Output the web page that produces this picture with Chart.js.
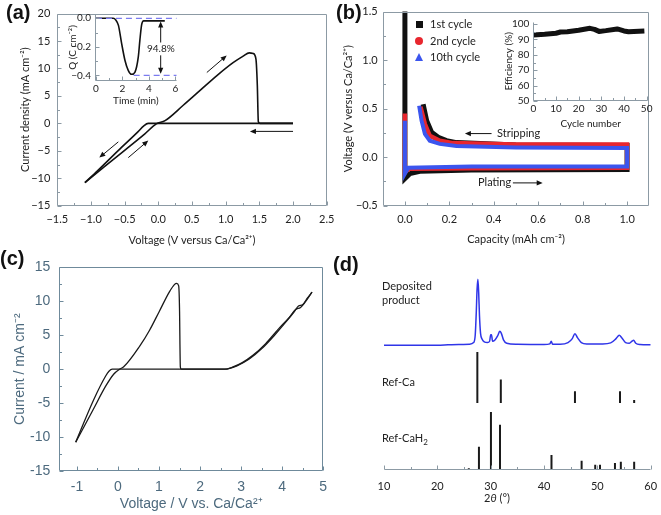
<!DOCTYPE html>
<html>
<head>
<meta charset="utf-8">
<script src="https://cdn.jsdelivr.net/npm/chart.js@4.4.1/dist/chart.umd.min.js"></script>
<style>
  body { margin: 0; width: 661px; height: 515px; overflow: hidden; background: #fff; position: relative; font-family: Lato, "Open Sans", sans-serif; color: #222; }
  canvas { position: absolute; }
  .pl { position: absolute; font: bold 20px/20px "Liberation Sans", Arial, sans-serif; color: #111; }
  .tx { position: absolute; font-size: 11px; line-height: 14px; white-space: nowrap; color: #222; }
  .mk { position: absolute; }
</style>
</head>
<body>
<canvas id="cA" width="345" height="250" style="left:0;top:0"></canvas>
<canvas id="cAin" width="135" height="108" style="left:50px;top:0"></canvas>
<canvas id="cB" width="331" height="250" style="left:330px;top:0"></canvas>
<canvas id="cBin" width="165" height="135" style="left:490px;top:0"></canvas>
<canvas id="cC" width="335" height="265" style="left:0;top:250px"></canvas>
<canvas id="cD" width="345" height="265" style="left:330px;top:250px"></canvas>

<div class="pl" style="left:6px;top:2px">(a)</div>
<div class="pl" style="left:336px;top:2px">(b)</div>
<div class="pl" style="left:0px;top:248px">(c)</div>
<div class="pl" style="left:333px;top:254px">(d)</div>

<div class="tx" style="left:147px;top:41px;font-size:10px">94.8%</div>

<div class="mk" style="left:416px;top:21px;width:7px;height:7px;background:#111"></div>
<div class="mk" style="left:415px;top:37px;width:8px;height:8px;border-radius:50%;background:#e8262e"></div>
<div class="mk" style="left:415px;top:53px;width:0;height:0;border-left:4.5px solid transparent;border-right:4.5px solid transparent;border-bottom:8px solid #3b55ee"></div>
<div class="tx" style="left:430px;top:17px">1st cycle</div>
<div class="tx" style="left:430px;top:34px">2nd cycle</div>
<div class="tx" style="left:430px;top:50px">10th cycle</div>
<div class="tx" style="left:497px;top:126px">Stripping</div>
<div class="tx" style="left:478px;top:175px">Plating</div>

<div class="tx" style="left:382px;top:279px">Deposited<br>product</div>
<div class="tx" style="left:382px;top:375px">Ref-Ca</div>
<div class="tx" style="left:382px;top:431px">Ref-CaH<sub style="font-size:8px">2</sub></div>
<div class="tx" style="left:467px;top:491px;width:60px;text-align:center">2<i>θ</i> (°)</div>

<script>
// (a) cyclic voltammogram, cathodic and anodic scans
const aCathV = [2.0, -0.15, -0.22, -0.3, -0.6, -0.9, -1.09];
const aCathI = [0, 0, -0.5, -1.5, -5.0, -8.6, -10.8];
const aAnoV = [-1.09, -0.8, -0.5, -0.2, -0.03, 0.1, 0.37, 0.62, 0.87, 1.11, 1.26, 1.35, 1.41, 1.45, 1.47, 1.485, 1.51, 2.0];
const aAnoI = [-10.8, -7.9, -4.9, -1.9, -0.1, 0.5, 3.3, 6.0, 8.7, 11.05, 12.25, 12.85, 12.72, 11.65, 6.9, 0.3, 0, 0];
// (a) inset: charge vs time
const insT = [0, 1.3, 1.5, 1.7, 1.94, 2.19, 2.44, 2.69, 2.95, 3.2, 3.32, 3.45, 3.6, 4.5, 5.2];
const insQ = [0, 0, -0.012, -0.05, -0.176, -0.294, -0.365, -0.393, -0.377, -0.271, -0.153, -0.047, -0.018, -0.018, -0.018];
const insRefT0 = [0, 6.1], insRefQ0 = [0, 0];
const insRefT1 = [2.85, 6.1], insRefQ1 = [-0.4, -0.4];

// (b) galvanostatic cycles: capacity vs voltage
const b1Cap = [0.0, 0.0, 0.022, 0.067, 0.3, 1.0, 1.0, 0.5, 0.232, 0.187, 0.15, 0.12, 0.098, 0.082];
const b1V = [1.7, -0.22, -0.17, -0.145, -0.132, -0.128, 0.12, 0.125, 0.15, 0.17, 0.205, 0.256, 0.376, 0.546];
const b2Cap = [0.0, 0.0, 0.02, 0.3, 1.0, 1.0, 0.5, 0.217, 0.157, 0.112, 0.09, 0.07];
const b2V = [0.45, -0.15, -0.12, -0.113, -0.11, 0.13, 0.13, 0.145, 0.17, 0.22, 0.34, 0.52];
const b10Cap = [0.0, 0.0, 0.015, 0.3, 1.0, 1.0, 0.5, 0.232, 0.157, 0.112, 0.09, 0.075, 0.064];
const b10V = [0.375, -0.17, -0.11, -0.097, -0.095, 0.095, 0.1, 0.115, 0.137, 0.17, 0.24, 0.376, 0.53];
// (b) inset: coulombic efficiency
const effCycle = [0, 5, 10, 12, 15, 20, 25, 27, 29, 32, 37, 40, 42, 49];
const effPct = [92.9, 93.3, 94, 94.8, 95, 95.9, 97.2, 96.5, 95.2, 95.7, 96.8, 95.5, 95, 95.5];

// (c) wide-window voltammogram
const cCathV = [4.73, 4.62, 4.5, 4.4, 4.3, 4.1, 3.8, 3.5, 3.2, 2.9, 2.6, 1.0, -0.14, -0.22, -0.3, -0.6, -1.03];
const cCathI = [11.36, 10.5, 9.5, 9.3, 8.5, 7.0, 4.9, 3.0, 1.5, 0.5, 0, 0, 0, -0.3, -1.0, -4.6, -10.75];
const cAnoV = [-1.03, -0.6, -0.3, -0.1, 0.04, 0.14, 0.53, 0.77, 1.01, 1.25, 1.38, 1.43, 1.48, 1.5, 1.52, 1.54, 2.6, 2.79, 3.03, 3.28, 3.6, 3.92, 4.17, 4.33, 4.45, 4.57, 4.73];
const cAnoI = [-10.75, -5.9, -2.5, -0.7, 0, 0.35, 3.4, 5.74, 8.55, 11.36, 12.5, 12.66, 12.28, 9, 0.35, 0, 0, 0.3, 0.97, 2.0, 3.77, 5.97, 7.6, 8.8, 9.1, 9.95, 11.36];

// (d) XRD
const depTheta = [10, 20, 22, 24, 26, 26.8, 27.1, 27.3, 27.45, 27.6, 27.75, 27.9, 28.1, 28.4, 28.8, 29.4, 29.8, 30.0, 30.15, 30.35, 30.8, 31.3, 31.7, 32.0, 32.4, 33, 35, 40, 41.1, 41.35, 41.6, 43, 44.5, 45.3, 45.8, 46.3, 47, 48, 51, 52.5, 53.5, 54.1, 54.6, 55.3, 56, 56.5, 56.8, 57.2, 58, 60];
const depInt = [0, 0, 0.5, 1, 1.5, 4, 15, 50, 85, 100, 80, 45, 18, 9, 5, 4, 6, 16, 16, 6, 8, 14, 21, 18, 8, 3, 1.5, 1, 2, 6, 1.5, 1.5, 4, 10, 17.5, 11, 4, 2, 2, 3.5, 10, 15, 11, 4, 3, 6, 7.5, 3, 1, 0.5];
const caTheta = [27.5, 31.9, 45.8, 54.25, 56.9];
const caInt = [100, 46, 23, 23, 6];
const cah2Theta = [25.9, 27.8, 30.05, 31.75, 41.4, 47.05, 49.6, 50.5, 53.3, 54.4, 56.9];
const cah2Int = [3, 40, 100, 78, 26, 16, 9, 9, 12, 14, 14];

// arrows, in data units [x1, y1, x2, y2]
const aArrows = [[0.72, 9.27, 1.015, 12.37], [2.0, -1.46, 1.36, -1.46], [-0.594, -3.37, -0.876, -6.24], [-0.446, -6.24, -0.149, -3.13]];
const insArrows = [[4.89, -0.17, 4.89, -0.022], [4.89, -0.26, 4.89, -0.39]];
const bArrows = [[0.39, 0.243, 0.27, 0.243], [0.486, -0.265, 0.62, -0.265]];

const GRAY = '#8c9aa4';
const CGRAY = '#6f8a9b';
const CTEXT = '#4d6a7e';
const FA = { family: 'Lato', size: 11 };
const FI = { family: 'Lato', size: 10 };
const FC = { family: 'Liberation Sans', size: 14 };

const steps = (lo, hi, d) => {
  const out = [];
  for (let i = 0; lo + i * d <= hi + 1e-9; i++) out.push(Math.round((lo + i * d) * 1000) / 1000);
  return out;
};
const fmt1 = v => v.toFixed(1).replace('-', '\u2212');
const fmt0 = v => String(v).replace('-', '\u2212');
const fmtH = v => String(v);

// frame, inward ticks and arrows
const decor = {
  id: 'decor',
  afterDatasetsDraw(chart, args, o) {
    const ctx = chart.ctx, a = chart.chartArea;
    const L = Math.round(a.left) + 0.5, R = Math.round(a.right) - 0.5;
    const T = Math.round(a.top) + 0.5, B = Math.round(a.bottom) - 0.5;
    ctx.save();
    ctx.strokeStyle = o.color || GRAY;
    ctx.lineWidth = 1;
    ctx.beginPath();
    if (o.frame === 'box') { ctx.rect(L, T, R - L, B - T); }
    if (o.frame === 'lb') { ctx.moveTo(L, T); ctx.lineTo(L, B); ctx.lineTo(R, B); }
    if (o.frame === 'b') { ctx.moveTo(L, B); ctx.lineTo(R, B); }
    ctx.stroke();
    (o.ticks || []).forEach(id => {
      const s = chart.scales[id];
      s.ticks.forEach(t => {
        const len = t.label !== '' ? 4 : 2.5;
        const p = Math.round(s.getPixelForValue(t.value)) + 0.5;
        ctx.beginPath();
        if (s.isHorizontal()) { ctx.moveTo(p, B); ctx.lineTo(p, B - len); }
        else { ctx.moveTo(L, p); ctx.lineTo(L + len, p); }
        ctx.stroke();
      });
    });
    ctx.strokeStyle = ctx.fillStyle = '#111';
    (o.arrows || []).forEach(ar => {
      const xs = chart.scales.x, ys = chart.scales.y;
      const x1 = xs.getPixelForValue(ar[0]), y1 = ys.getPixelForValue(ar[1]);
      const x2 = xs.getPixelForValue(ar[2]), y2 = ys.getPixelForValue(ar[3]);
      const ang = Math.atan2(y2 - y1, x2 - x1), hl = 6, hw = 2.6;
      const c = Math.cos(ang), s = Math.sin(ang);
      ctx.lineWidth = 1;
      ctx.beginPath(); ctx.moveTo(x1, y1); ctx.lineTo(x2 - c * hl * 0.7, y2 - s * hl * 0.7); ctx.stroke();
      ctx.beginPath(); ctx.moveTo(x2, y2);
      ctx.lineTo(x2 - hl * c + hw * s, y2 - hl * s - hw * c);
      ctx.lineTo(x2 - hl * c - hw * s, y2 - hl * s + hw * c);
      ctx.closePath(); ctx.fill();
    });
    ctx.restore();
  }
};
Chart.register(decor);

function ax(o) {
  const horiz = o.pos === 'bottom';
  return {
    type: 'linear', position: o.pos, min: o.min, max: o.max, display: o.display !== false,
    afterBuildTicks: s => { s.ticks = o.ticks.map(v => ({ value: v })); },
    afterFit: s => { if (horiz) s.height = o.size; else s.width = o.size; },
    grid: { display: false, drawTicks: false },
    border: { display: false },
    ticks: {
      autoSkip: false, maxRotation: 0, padding: o.pad, color: o.color || '#222', font: o.font,
      callback: v => o.major.some(m => Math.abs(m - v) < 1e-6) ? o.fmt(v) : ''
    },
    title: {
      display: !!o.title, text: o.title, color: o.color || '#222', font: o.font,
      padding: horiz ? { top: 0, bottom: o.tpad } : { top: o.tpad, bottom: 0 }
    }
  };
}

function line(xs, ys, color, width, extra) {
  return Object.assign({
    data: xs.map((x, i) => ({ x: x, y: ys[i] })),
    showLine: true, borderColor: color, borderWidth: width,
    pointRadius: 0, fill: false
  }, extra || {});
}

function plot(id, datasets, scales, padding, decorOpts) {
  return new Chart(document.getElementById(id), {
    type: 'scatter',
    data: { datasets: datasets },
    options: {
      responsive: false, animation: false, devicePixelRatio: 1,
      layout: { padding: padding },
      scales: scales,
      plugins: { legend: { display: false }, tooltip: { enabled: false }, decor: decorOpts }
    }
  });
}

// (a)
plot('cA', [
  line(aCathV, aCathI, '#111', 1.6, { cubicInterpolationMode: 'monotone' }),
  line(aAnoV, aAnoI, '#111', 1.6, { cubicInterpolationMode: 'monotone' })
], {
  x: ax({ pos: 'bottom', min: -1.5, max: 2.5, ticks: steps(-1.5, 2.5, 0.25), major: steps(-1.5, 2.5, 0.5), fmt: fmt1,
    size: 44.3, pad: 7, font: FA, title: 'Voltage (V versus Ca/Ca\u00b2\u207a)', tpad: 3.4 }),
  y: ax({ pos: 'left', min: -15, max: 20, ticks: steps(-15, 20, 2.5), major: steps(-15, 20, 5), fmt: fmt0,
    size: 57.3, pad: 7, font: FA, title: 'Current density (mA cm\u207b\u00b2)', tpad: 18.4 })
}, { left: 0, top: 10, right: 18.3, bottom: 0 }, { frame: 'box', ticks: ['x', 'y'], arrows: aArrows });

// (a) inset
plot('cAin', [
  line(insRefT0, insRefQ0, '#7b7bf0', 1.2, { borderDash: [6, 4] }),
  line(insRefT1, insRefQ1, '#7b7bf0', 1.2, { borderDash: [6, 4] }),
  line(insT, insQ, '#111', 1.6, { cubicInterpolationMode: 'monotone' })
], {
  x: ax({ pos: 'bottom', min: -0.07, max: 6.1, ticks: steps(0, 6, 1), major: [0, 2, 4, 6], fmt: fmtH,
    size: 27, pad: 2, font: FI, title: 'Time (min)', tpad: 1 }),
  y: ax({ pos: 'left', min: -0.44, max: 0.03, ticks: steps(-0.4, 0, 0.1), major: [-0.4, -0.2, 0], fmt: fmt1,
    size: 45, pad: 4, font: FI, title: 'Q (C cm\u207b\u00b2)', tpad: 17 })
}, { left: 0, top: 14, right: 8.3, bottom: 0 }, { frame: 'lb', ticks: ['x', 'y'], arrows: insArrows });

// (b)
plot('cB', [
  line(b10Cap, b10V, '#3b55ee', 4, { order: 0 }),
  line(b2Cap, b2V, '#e8262e', 4.5, { order: 1 }),
  line(b1Cap, b1V, '#111', 5, { order: 2 })
], {
  x: ax({ pos: 'bottom', min: -0.1, max: 1.1, ticks: steps(0, 1, 0.1), major: steps(0, 1, 0.2), fmt: fmt1,
    size: 44.3, pad: 7, font: FA, title: 'Capacity (mAh cm\u207b\u00b2)', tpad: 4.4 }),
  y: ax({ pos: 'left', min: -0.5, max: 1.5, ticks: steps(-0.5, 1.5, 0.25), major: steps(-0.5, 1.5, 0.5), fmt: fmt1,
    size: 52.7, pad: 5, font: FA, title: 'Voltage (V versus Ca/Ca\u00b2\u207a)', tpad: 11.4 })
}, { left: 0, top: 10, right: 11.7, bottom: 0 }, { frame: 'box', ticks: ['x', 'y'], arrows: bArrows });

// (b) inset
plot('cBin', [
  line(effCycle, effPct, '#111', 5, { borderJoinStyle: 'round' })
], {
  x: ax({ pos: 'bottom', min: 0, max: 50.6, ticks: steps(0, 50, 5), major: steps(0, 50, 10), fmt: fmtH,
    size: 34, pad: 2, font: FI, title: 'Cycle number', tpad: 5 }),
  y: ax({ pos: 'left', min: 50, max: 101.5, ticks: steps(50, 100, 5), major: steps(50, 100, 10), fmt: fmtH,
    size: 43.3, pad: 4, font: FI, title: 'Efficiency (%)', tpad: 13 })
}, { left: 0, top: 21.7, right: 7, bottom: 0 }, { frame: 'lb', ticks: ['x', 'y'] });

// (c)
plot('cC', [
  line(cCathV, cCathI, '#1a1a1a', 1.3, { cubicInterpolationMode: 'monotone' }),
  line(cAnoV, cAnoI, '#1a1a1a', 1.3, { cubicInterpolationMode: 'monotone' })
], {
  x: ax({ pos: 'bottom', min: -1.43, max: 5, ticks: steps(-1, 5, 0.5), major: steps(-1, 5, 1), fmt: fmtH,
    size: 44, pad: 8, font: FC, color: CTEXT, title: 'Voltage / V vs. Ca/Ca\u00b2\u207a', tpad: 2.6 }),
  y: ax({ pos: 'left', min: -15, max: 15, ticks: steps(-15, 15, 2.5), major: steps(-15, 15, 5), fmt: fmtH,
    size: 59.3, pad: 9, font: FC, color: CTEXT, title: 'Current / mA cm\u207b\u00b2', tpad: 11.6 })
}, { left: 0, top: 7.3, right: 11, bottom: 0 }, { frame: 'box', color: CGRAY, ticks: ['x', 'y'] });

// (d) stacked patterns: offsets and scale factors place each trace in its band
const DEP_BASE = 189, DEP_K = 1.0, CA_BASE = 101.5, CA_K = 0.773, CAH2_BASE = 0, CAH2_K = 0.879;
const sticks = (pos, ints, base, k) => pos.flatMap((p, i) => [{ x: p, y: base }, { x: p, y: base + ints[i] * k }, { x: p, y: null }]);
plot('cD', [
  line(depTheta, depInt.map(v => DEP_BASE + v * DEP_K), '#2f35e8', 1.5, { cubicInterpolationMode: 'monotone' }),
  { data: sticks(caTheta, caInt, CA_BASE, CA_K), showLine: true, borderColor: '#1a1a1a', borderWidth: 2, pointRadius: 0, spanGaps: false },
  { data: sticks(cah2Theta, cah2Int, CAH2_BASE, CAH2_K), showLine: true, borderColor: '#1a1a1a', borderWidth: 2, pointRadius: 0, spanGaps: false }
], {
  x: ax({ pos: 'bottom', min: 10, max: 60, ticks: steps(10, 60, 5), major: steps(10, 60, 10), fmt: fmtH,
    size: 45, pad: 10, font: FA }),
  y: { type: 'linear', display: false, min: 0, max: 315 }
}, { left: 54, top: 12, right: 24.3, bottom: 0 }, { frame: 'b', ticks: ['x'] });
</script>
</body>
</html>
